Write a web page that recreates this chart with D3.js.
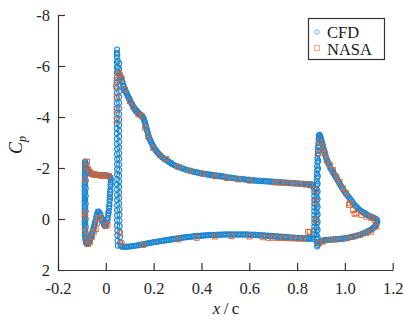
<!doctype html>
<html lang='en'>
<head>
<meta charset='UTF-8'>
<title>Cp distribution</title>
<style>
    html, body { margin: 0; background: #fff; }
    svg { display: block; }
    .axis text {
        font-family: 'Liberation Serif', 'DejaVu Serif', serif;
        font-size: 16.5px;
        fill: #262626;
    }
    .axis path, .axis line { stroke: #333; stroke-width: 1.2px; }
    .label, .legend text {
        font-family: 'Liberation Serif', 'DejaVu Serif', serif;
        fill: #1a1a1a;
    }
</style>
</head>
<body>
<script src='https://cdn.jsdelivr.net/npm/d3@7'></script>
<script>
    // tick values
    const xTicks = [-0.2, 0, 0.2, 0.4, 0.6, 0.8, 1.0, 1.2];
    const yTicks = [-8, -6, -4, -2, 0, 2];
    const seriesNames = ['CFD', 'NASA'];

    // CFD, [x/c, Cp], slat element
    const slatCfd = [
        [-0.087, -2.22], [-0.084, -2.16], [-0.081, -2.06], [-0.078, -1.97], [-0.075, -1.9], [-0.071, -1.84],
        [-0.067, -1.8], [-0.062, -1.77], [-0.057, -1.76], [-0.052, -1.75], [-0.047, -1.74], [-0.042, -1.74],
        [-0.037, -1.73], [-0.032, -1.73], [-0.027, -1.72], [-0.022, -1.72], [-0.017, -1.72], [-0.012, -1.71],
        [-0.007, -1.71], [-0.002, -1.7], [0.003, -1.7], [0.008, -1.69], [0.012, -1.68], [0.016, -1.66],
        [0.019, -1.62], [0.021, -1.55],
        [-0.086, -2.25], [-0.083, -2.12], [-0.08, -2.02], [-0.077, -1.94], [-0.073, -1.87], [-0.069, -1.82],
        [-0.065, -1.79], [-0.06, -1.77], [-0.055, -1.76], [-0.05, -1.75], [-0.045, -1.74], [-0.04, -1.73],
        [-0.035, -1.73], [-0.03, -1.72], [-0.025, -1.72], [-0.02, -1.72], [-0.015, -1.71], [-0.01, -1.71],
        [-0.005, -1.7], [0.0, -1.7], [0.005, -1.7], [0.01, -1.69], [0.014, -1.67], [0.018, -1.64],
        // cove
        [0.021, -1.42], [0.02, -1.28], [0.019, -1.14], [0.018, -1.0], [0.017, -0.86], [0.016, -0.72],
        [0.015, -0.58], [0.014, -0.44], [0.012, -0.3], [0.01, -0.16], [0.008, -0.03], [0.005, 0.1],
        [0.002, 0.2], [-0.002, 0.28], [-0.006, 0.25], [-0.01, 0.16], [-0.014, 0.06], [-0.018, -0.05],
        [-0.022, -0.15], [-0.026, -0.23], [-0.03, -0.28], [-0.034, -0.27], [-0.037, -0.18], [-0.04, -0.06],
        [-0.043, 0.06], [-0.046, 0.19], [-0.05, 0.32], [-0.054, 0.46], [-0.058, 0.59], [-0.062, 0.71],
        [-0.066, 0.81], [-0.07, 0.89], [-0.074, 0.95], [-0.078, 0.98], [-0.082, 0.94], [-0.085, 0.82],
        [0.02, -1.35], [0.019, -1.07], [0.017, -0.79], [0.015, -0.51], [0.011, -0.23], [0.007, 0.03],
        [0.0, 0.26], [-0.008, 0.2], [-0.016, 0.0], [-0.024, -0.19], [-0.032, -0.29], [-0.038, -0.12],
        [-0.044, 0.12], [-0.048, 0.25], [-0.052, 0.39], [-0.056, 0.52], [-0.06, 0.65], [-0.064, 0.76],
        [-0.068, 0.85], [-0.072, 0.92], [-0.076, 0.97], [-0.08, 0.97],
        // leading edge
        [-0.087, 0.68], [-0.088, 0.53], [-0.088, 0.38], [-0.089, 0.23], [-0.089, 0.08], [-0.089, -0.07],
        [-0.089, -0.22], [-0.089, -0.37], [-0.089, -0.52], [-0.089, -0.67], [-0.089, -0.82], [-0.089, -0.97],
        [-0.089, -1.12], [-0.089, -1.27], [-0.089, -1.42], [-0.088, -1.57], [-0.088, -1.72], [-0.088, -1.87],
        [-0.088, -2.02], [-0.088, -2.15],
        [-0.083, 0.9], [-0.083, 0.6], [-0.084, 0.3], [-0.084, 0.0], [-0.084, -0.3], [-0.084, -0.6],
        [-0.084, -0.9], [-0.084, -1.2], [-0.084, -1.5], [-0.084, -1.8],
        [-0.086, 0.75], [-0.086, 0.45], [-0.086, 0.15], [-0.086, -0.15], [-0.086, -0.45], [-0.086, -0.75],
        [-0.086, -1.05], [-0.086, -1.35], [-0.086, -1.65], [-0.086, -1.95]
    ];

    // CFD, main element
    const mainCfd = [
        [0.05, 1.05], [0.049, 0.85], [0.048, 0.65], [0.048, 0.45], [0.047, 0.25], [0.047, 0.05],
        [0.047, -0.15], [0.047, -0.35], [0.047, -0.55], [0.047, -0.75], [0.047, -0.95], [0.047, -1.15],
        [0.047, -1.35], [0.047, -1.55], [0.047, -1.75], [0.047, -1.95], [0.047, -2.15], [0.047, -2.35],
        [0.047, -2.55], [0.047, -2.75], [0.046, -2.95], [0.046, -3.15], [0.046, -3.35], [0.046, -3.55],
        [0.046, -3.75], [0.046, -3.95], [0.046, -4.15], [0.046, -4.35], [0.046, -4.55], [0.046, -4.75],
        [0.046, -4.95], [0.046, -5.15], [0.046, -5.35], [0.046, -5.55], [0.046, -5.75], [0.046, -5.95],
        [0.046, -6.15], [0.046, -6.35], [0.046, -6.52], [0.047, -6.65],
        [0.056, -6.1], [0.056, -5.88], [0.056, -5.66], [0.056, -5.44], [0.056, -5.22], [0.056, -5.0],
        [0.056, -4.78], [0.056, -4.56], [0.056, -4.34], [0.056, -4.12], [0.056, -3.9], [0.056, -3.68],
        [0.056, -3.46], [0.056, -3.24], [0.056, -3.02], [0.056, -2.8], [0.056, -2.58], [0.056, -2.36],
        [0.056, -2.14], [0.056, -1.92], [0.056, -1.7], [0.056, -1.48], [0.056, -1.26], [0.056, -1.04],
        [0.056, -0.82], [0.056, -0.6],
        [0.057, -0.38], [0.057, -0.16], [0.057, 0.06], [0.058, 0.28], [0.058, 0.5], [0.059, 0.72], [0.06, 0.92],
        // upper surface
        [0.048, -6.45], [0.05, -6.2], [0.051, -5.95], [0.053, -5.75], [0.057, -5.65], [0.062, -5.56],
        [0.066, -5.5], [0.07, -5.36], [0.073, -5.24], [0.077, -5.12], [0.082, -5.01], [0.087, -4.92],
        [0.093, -4.8], [0.098, -4.7], [0.103, -4.6], [0.109, -4.5], [0.115, -4.4], [0.12, -4.31],
        [0.125, -4.24], [0.13, -4.19], [0.136, -4.14], [0.142, -4.09], [0.148, -4.05], [0.154, -4.0],
        [0.158, -3.93], [0.162, -3.82], [0.166, -3.7], [0.17, -3.56], [0.174, -3.42], [0.178, -3.28],
        [0.183, -3.14], [0.189, -3.02], [0.195, -2.9], [0.201, -2.8], [0.208, -2.7], [0.216, -2.6],
        [0.225, -2.51], [0.235, -2.42], [0.245, -2.35], [0.256, -2.28], [0.268, -2.21], [0.28, -2.14],
        [0.293, -2.08], [0.306, -2.03], [0.32, -1.98], [0.335, -1.93], [0.35, -1.89], [0.365, -1.85],
        [0.38, -1.82], [0.395, -1.79], [0.41, -1.76], [0.425, -1.74], [0.44, -1.72], [0.455, -1.7],
        [0.47, -1.68], [0.485, -1.66], [0.5, -1.64], [0.515, -1.62], [0.53, -1.6], [0.545, -1.58],
        [0.56, -1.56], [0.575, -1.55], [0.59, -1.53], [0.605, -1.52], [0.62, -1.5], [0.635, -1.49],
        [0.65, -1.48], [0.665, -1.47], [0.68, -1.46], [0.695, -1.45], [0.71, -1.44], [0.725, -1.43],
        [0.74, -1.42], [0.755, -1.41], [0.77, -1.4], [0.785, -1.39], [0.8, -1.38], [0.815, -1.37],
        [0.83, -1.35], [0.845, -1.34], [0.858, -1.32], [0.866, -1.28], [0.871, -1.2],
        [0.06, -5.62], [0.068, -5.42], [0.075, -5.2], [0.08, -5.1], [0.085, -4.98], [0.09, -4.86],
        [0.096, -4.76], [0.1, -4.68], [0.106, -4.57], [0.112, -4.47], [0.118, -4.37], [0.123, -4.3],
        [0.128, -4.25], [0.133, -4.2], [0.139, -4.15], [0.145, -4.1], [0.151, -4.06], [0.156, -3.98],
        [0.16, -3.88], [0.164, -3.77], [0.168, -3.64], [0.172, -3.5], [0.176, -3.36], [0.18, -3.22],
        [0.186, -3.1], [0.192, -2.98], [0.198, -2.86], [0.204, -2.76], [0.212, -2.66], [0.22, -2.57],
        [0.23, -2.48], [0.24, -2.4], [0.25, -2.33], [0.262, -2.26], [0.274, -2.19], [0.286, -2.12],
        [0.3, -2.07], [0.313, -2.02], [0.327, -1.97], [0.342, -1.92], [0.357, -1.88], [0.372, -1.85],
        [0.387, -1.82], [0.402, -1.79], [0.417, -1.77], [0.432, -1.75], [0.447, -1.73], [0.462, -1.71],
        [0.477, -1.69], [0.492, -1.67], [0.507, -1.65], [0.522, -1.63], [0.537, -1.61], [0.552, -1.59],
        [0.567, -1.58], [0.582, -1.56], [0.597, -1.55], [0.612, -1.53], [0.627, -1.52], [0.642, -1.51],
        [0.657, -1.5], [0.672, -1.49], [0.687, -1.48], [0.702, -1.47], [0.717, -1.46], [0.732, -1.45],
        [0.747, -1.44], [0.762, -1.43], [0.777, -1.42], [0.792, -1.41], [0.807, -1.4], [0.822, -1.39],
        [0.837, -1.38], [0.851, -1.37], [0.862, -1.36],
        // trailing edge
        [0.872, -1.05], [0.872, -0.9], [0.872, -0.75], [0.872, -0.6], [0.872, -0.45], [0.872, -0.3],
        [0.872, -0.15], [0.872, 0.0], [0.872, 0.15], [0.872, 0.3], [0.871, 0.45], [0.87, 0.6],
        [0.868, 0.72], [0.864, 0.78],
        // lower surface
        [0.856, 0.76], [0.845, 0.75], [0.832, 0.75], [0.818, 0.74], [0.804, 0.74], [0.79, 0.73],
        [0.776, 0.72], [0.762, 0.71], [0.748, 0.7], [0.734, 0.69], [0.72, 0.68], [0.706, 0.67],
        [0.692, 0.66], [0.678, 0.65], [0.664, 0.64], [0.65, 0.63], [0.636, 0.62], [0.622, 0.61],
        [0.608, 0.61], [0.594, 0.6], [0.58, 0.6], [0.566, 0.6], [0.552, 0.6], [0.538, 0.6],
        [0.524, 0.6], [0.51, 0.6], [0.496, 0.6], [0.482, 0.61], [0.468, 0.61], [0.454, 0.62],
        [0.44, 0.62], [0.426, 0.63], [0.412, 0.64], [0.398, 0.65], [0.384, 0.66], [0.37, 0.67],
        [0.356, 0.69], [0.342, 0.7], [0.328, 0.72], [0.314, 0.74], [0.3, 0.76], [0.286, 0.78],
        [0.272, 0.8], [0.258, 0.82], [0.244, 0.84], [0.23, 0.86], [0.216, 0.88], [0.202, 0.9],
        [0.188, 0.93], [0.174, 0.95], [0.16, 0.98], [0.146, 1.0], [0.132, 1.03], [0.118, 1.05],
        [0.104, 1.07], [0.09, 1.08], [0.078, 1.08], [0.068, 1.07], [0.061, 1.04],
        [0.07, 1.1], [0.084, 1.1], [0.097, 1.09], [0.111, 1.07], [0.125, 1.05], [0.139, 1.03],
        [0.153, 1.0], [0.167, 0.98], [0.181, 0.95], [0.195, 0.92], [0.209, 0.9], [0.223, 0.88],
        [0.237, 0.86], [0.251, 0.84], [0.265, 0.82], [0.279, 0.8], [0.293, 0.78], [0.307, 0.76],
        [0.321, 0.74], [0.335, 0.72], [0.349, 0.71], [0.363, 0.69], [0.377, 0.68], [0.391, 0.67],
        [0.405, 0.66], [0.419, 0.65], [0.433, 0.64], [0.447, 0.64], [0.461, 0.63], [0.475, 0.63],
        [0.489, 0.62], [0.503, 0.62], [0.517, 0.62], [0.531, 0.62], [0.545, 0.62], [0.559, 0.62],
        [0.573, 0.62], [0.587, 0.62], [0.601, 0.63], [0.615, 0.63], [0.629, 0.64], [0.643, 0.65],
        [0.657, 0.66], [0.671, 0.67], [0.685, 0.68], [0.699, 0.69], [0.713, 0.7], [0.727, 0.71],
        [0.741, 0.72], [0.755, 0.73], [0.769, 0.74], [0.783, 0.75], [0.797, 0.76], [0.811, 0.76],
        [0.825, 0.77], [0.839, 0.77], [0.851, 0.78]
    ];

    // CFD, flap element
    const flapCfd = [
        [0.884, 1.08], [0.883, 0.93], [0.882, 0.78], [0.882, 0.63], [0.882, 0.48], [0.882, 0.33],
        [0.882, 0.18], [0.882, 0.03], [0.882, -0.12], [0.882, -0.27], [0.882, -0.42], [0.882, -0.57],
        [0.882, -0.72], [0.882, -0.87], [0.882, -1.02], [0.882, -1.17], [0.882, -1.32], [0.883, -1.47],
        [0.883, -1.62], [0.883, -1.77], [0.884, -1.92], [0.884, -2.07], [0.885, -2.22], [0.885, -2.37],
        [0.886, -2.52], [0.887, -2.67], [0.888, -2.82], [0.889, -2.97], [0.89, -3.12], [0.891, -3.26],
        [0.887, 1.02], [0.886, 0.72], [0.886, 0.42], [0.886, 0.12], [0.886, -0.18], [0.886, -0.48],
        [0.886, -0.78], [0.886, -1.08], [0.886, -1.38], [0.887, -1.68], [0.888, -1.98], [0.889, -2.28],
        [0.89, -2.58], [0.891, -2.88], [0.892, -3.18],
        // upper surface
        [0.894, -3.3], [0.898, -3.2], [0.902, -3.08], [0.905, -2.96], [0.909, -2.84], [0.912, -2.71],
        [0.916, -2.58], [0.92, -2.44], [0.925, -2.31], [0.931, -2.18], [0.937, -2.05], [0.944, -1.93],
        [0.951, -1.82], [0.958, -1.71], [0.965, -1.6], [0.973, -1.47], [0.981, -1.33], [0.99, -1.2],
        [0.999, -1.07], [1.009, -0.94], [1.02, -0.81], [1.03, -0.68], [1.041, -0.55], [1.051, -0.45],
        [1.062, -0.35], [1.072, -0.28], [1.083, -0.22], [1.094, -0.16], [1.104, -0.11], [1.115, -0.07],
        [1.125, -0.03], [1.134, 0.04],
        [0.896, -3.26], [0.9, -3.14], [0.903, -3.02], [0.907, -2.9], [0.91, -2.78], [0.914, -2.65],
        [0.918, -2.51], [0.922, -2.38], [0.928, -2.25], [0.934, -2.12], [0.94, -1.99], [0.947, -1.88],
        [0.954, -1.77], [0.961, -1.66], [0.969, -1.54], [0.977, -1.4], [0.985, -1.27], [0.994, -1.14],
        [1.004, -1.0], [1.014, -0.88], [1.025, -0.75], [1.035, -0.62], [1.046, -0.5], [1.056, -0.4],
        [1.067, -0.31], [1.078, -0.25], [1.088, -0.19], [1.099, -0.13], [1.11, -0.09], [1.12, -0.05],
        [1.13, 0.0],
        // lower surface
        [1.134, 0.14], [1.13, 0.23], [1.125, 0.3], [1.118, 0.36], [1.111, 0.41], [1.101, 0.46],
        [1.09, 0.51], [1.076, 0.57], [1.062, 0.62], [1.048, 0.66], [1.034, 0.69], [1.02, 0.72],
        [1.006, 0.75], [0.992, 0.77], [0.978, 0.78], [0.964, 0.79], [0.951, 0.8], [0.937, 0.81],
        [0.923, 0.82], [0.912, 0.84], [0.902, 0.86], [0.894, 0.9], [0.888, 0.96],
        [1.136, 0.1], [1.133, 0.19], [1.128, 0.27], [1.122, 0.33], [1.114, 0.39], [1.106, 0.44],
        [1.096, 0.49], [1.083, 0.54], [1.069, 0.6], [1.055, 0.64], [1.041, 0.68], [1.027, 0.71],
        [1.013, 0.74], [0.999, 0.76], [0.985, 0.78], [0.971, 0.79], [0.957, 0.8], [0.944, 0.81],
        [0.93, 0.82], [0.917, 0.83], [0.907, 0.85], [0.898, 0.88], [0.891, 0.93]
    ];

    // NASA experiment
    const slatNasa = [
        [-0.083, -2.05], [-0.078, -2.25], [-0.073, -1.95], [-0.066, -1.85], [-0.058, -1.78], [-0.05, -1.74],
        [-0.042, -1.73], [-0.034, -1.72], [-0.026, -1.71], [-0.018, -1.7], [-0.01, -1.7], [-0.002, -1.69],
        [0.006, -1.69], [0.012, -1.69], [-0.086, -1.55], [-0.087, -0.25], [-0.087, -0.08], [-0.085, 0.45],
        [-0.079, 0.82], [-0.074, 0.98], [-0.066, 0.9], [-0.058, 0.7], [-0.05, 0.52], [-0.042, 0.4],
        [-0.036, 0.16], [-0.031, -0.02], [-0.024, -0.05], [0.0, 0.28], [0.008, 0.22]
    ];
    const mainNasa = [
        [0.045, -5.45], [0.043, -5.2], [0.045, -4.8], [0.045, -4.27], [0.045, -3.88], [0.059, 0.56],
        [0.066, 0.95], [0.052, -5.72], [0.058, -5.66], [0.066, -5.52], [0.08, -5.06], [0.101, -4.62],
        [0.115, -4.38], [0.136, -4.1], [0.15, -4.04], [0.164, -3.58], [0.177, -3.23], [0.198, -2.78],
        [0.226, -2.5], [0.254, -2.36], [0.303, -2.05], [0.352, -1.9], [0.405, -1.78], [0.456, -1.67],
        [0.505, -1.6], [0.553, -1.55], [0.602, -1.5], [0.707, -1.43], [0.728, -1.42], [0.749, -1.41],
        [0.77, -1.4], [0.79, -1.39], [0.811, -1.38], [0.832, -1.37], [0.853, -1.35],
        [0.156, 1.02], [0.303, 0.8], [0.38, 0.74], [0.456, 0.69], [0.526, 0.67], [0.602, 0.69],
        [0.658, 0.72], [0.679, 0.74], [0.7, 0.74], [0.721, 0.75], [0.742, 0.75], [0.762, 0.76],
        [0.783, 0.76], [0.804, 0.77], [0.825, 0.77], [0.853, 0.5], [0.874, -0.68], [0.878, 0.04],
        [0.876, -1.14]
    ];
    const flapNasa = [
        [0.888, -2.58], [0.895, -3.03], [0.909, -2.84], [0.916, -2.58], [0.923, -2.31], [0.937, -2.12],
        [0.951, -1.92], [0.965, -1.66], [0.978, -1.46], [0.992, -1.2], [1.006, -1.01], [1.017, -0.55],
        [1.02, -0.62], [1.034, -0.35], [1.04, -0.2], [1.048, -0.22], [1.069, -0.16], [1.09, -0.09],
        [1.111, -0.03], [1.125, 0.04], [1.09, 0.56], [1.062, 0.63], [1.034, 0.69], [1.006, 0.76],
        [0.965, 0.8], [0.937, 0.82], [0.909, 0.89], [0.892, 0.95], [0.846, 0.5], [1.132, 0.3], [1.111, 0.5]
    ];

    const width = 405, height = 321;
    const cfdColor = '#1c86cf';
    const nasaColor = '#e2622c';

    const svg = d3.select('body').append('svg')
        .attr('width', width)
        .attr('height', height);

    const x = d3.scaleLinear().domain([-0.2, 1.2]).range([58, 392.7]);
    const y = d3.scaleLinear().domain([-8, 2]).range([15, 270]);

    const fmtX = (d) => d === 0 ? '0' : d.toFixed(1);

    svg.append('g')
        .attr('class', 'axis')
        .attr('transform', 'translate(0,270)')
        .call(d3.axisBottom(x).tickValues(xTicks).tickFormat(fmtX)
            .tickSizeInner(-7).tickSizeOuter(0).tickPadding(12));

    svg.append('g')
        .attr('class', 'axis')
        .attr('transform', 'translate(58,0)')
        .call(d3.axisLeft(y).tickValues(yTicks).tickFormat(d3.format('d'))
            .tickSizeInner(-7).tickSizeOuter(0).tickPadding(8));

    // hyphen instead of unicode minus, as in the figure
    svg.selectAll('.axis text').text(function () {
        return d3.select(this).text().replace('\u2212', '-');
    });

    const cfd = slatCfd.concat(mainCfd, flapCfd);
    const nasa = slatNasa.concat(mainNasa, flapNasa);

    svg.append('g').selectAll('circle')
        .data(cfd)
        .join('circle')
        .attr('cx', (d) => x(d[0]))
        .attr('cy', (d) => y(d[1]))
        .attr('r', 2.5)
        .attr('fill', 'none')
        .attr('stroke', cfdColor)
        .attr('stroke-width', 1.1);

    const sq = 4.8;
    svg.append('g').selectAll('rect')
        .data(nasa)
        .join('rect')
        .attr('x', (d) => x(d[0]) - sq / 2)
        .attr('y', (d) => y(d[1]) - sq / 2)
        .attr('width', sq)
        .attr('height', sq)
        .attr('fill', 'none')
        .attr('stroke', nasaColor)
        .attr('stroke-width', 0.9);

    // axis labels
    const yLab = svg.append('text')
        .attr('class', 'label')
        .attr('transform', 'translate(22,145) rotate(-90)')
        .attr('text-anchor', 'middle')
        .style('font-size', '18px');
    yLab.append('tspan').style('font-style', 'italic').text('C');
    yLab.append('tspan').style('font-style', 'italic').style('font-size', '12px')
        .attr('dy', 4).text('p');

    const xLab = svg.append('text')
        .attr('class', 'label')
        .attr('x', 226)
        .attr('y', 314)
        .attr('text-anchor', 'middle')
        .style('font-size', '17px');
    xLab.append('tspan').style('font-style', 'italic').text('x');
    xLab.append('tspan').text('\u2009/\u2009c');

    // legend
    const legend = svg.append('g').attr('class', 'legend');
    legend.append('rect')
        .attr('x', 308.5).attr('y', 18.5)
        .attr('width', 76).attr('height', 41)
        .attr('fill', '#fff')
        .attr('stroke', '#333')
        .attr('stroke-width', 1.2);

    legend.append('circle')
        .attr('cx', 317).attr('cy', 32).attr('r', 2.2)
        .attr('fill', 'none').attr('stroke', '#45b3ea').attr('stroke-width', 0.9);
    legend.append('rect')
        .attr('x', 314.6).attr('y', 45.6).attr('width', 4.8).attr('height', 4.8)
        .attr('fill', 'none').attr('stroke', '#ee9a70').attr('stroke-width', 0.9);

    legend.selectAll('text.name')
        .data(seriesNames)
        .join('text')
        .attr('class', 'name')
        .attr('x', 327)
        .attr('y', (d, i) => 37.5 + i * 17.5)
        .style('font-size', '16.5px')
        .text((d) => d);
</script>
</body>
</html>
